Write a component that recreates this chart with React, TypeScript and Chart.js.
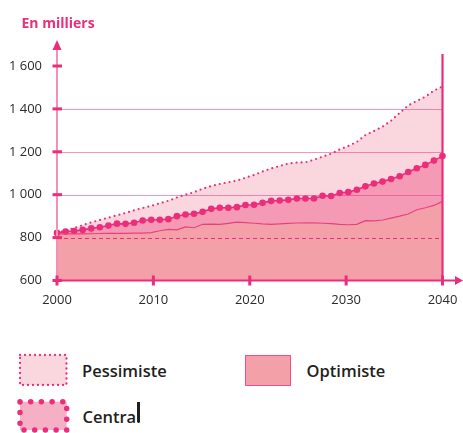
import React, { useEffect, useRef } from "react";
import { Chart, registerables } from "chart.js";

Chart.register(...registerables);

// ---- data (thousands of people), 46 samples between 2000 and 2040 ----
const optimiste = [
  817, 817, 817, 817, 818, 819, 820, 820, 820, 821,
  821, 823, 832, 838, 836, 850, 846, 862, 863, 862,
  866, 872, 870, 867, 864, 862, 864, 866, 868, 869,
  869, 867, 865, 862, 860, 862, 879, 878, 882, 891,
  900, 910, 930, 939, 950, 969,
];
const central = [
  822, 828, 831, 836, 843, 848, 856, 865, 864, 869,
  880, 883, 883, 886, 900, 908, 911, 920, 934, 939,
  939, 942, 952, 953, 962, 971, 973, 976, 982, 982,
  982, 995, 994, 1008, 1012, 1023, 1039, 1052, 1061, 1073,
  1086, 1106, 1123, 1139, 1159, 1180,
];
const pessimiste = [
  822, 833, 845, 858, 871, 882, 893, 904, 915, 927,
  938, 948, 960, 972, 987, 1000, 1012, 1028, 1040, 1050,
  1058, 1066, 1079, 1092, 1108, 1122, 1134, 1145, 1150, 1151,
  1163, 1177, 1191, 1211, 1227, 1246, 1278, 1297, 1317, 1345,
  1381, 1416, 1437, 1457, 1485, 1505,
];
const firstYear = 2000;
const lastYear = 2040;
const xTicks = [2000, 2010, 2020, 2030, 2040];
const yTicks = [600, 800, 1000, 1200, 1400, 1600];
const gridValues = [1000, 1200, 1400];
const referenceValue = 800;
const title = "En milliers";
const legendLabels = ["Pessimiste", "Optimiste", "Central"];

const PINK = "#ec2d7a";
const FONT = "'Open Sans', 'DejaVu Sans', sans-serif";

const xs = central.map((_, i) => firstYear + (i * (lastYear - firstYear)) / (central.length - 1));
const toPoints = (arr: number[]) => arr.map((v, i) => ({ x: xs[i], y: v }));

function fmt(v: number): string {
  if (v >= 1000) {
    return `${Math.floor(v / 1000)} ${String(v % 1000).padStart(3, "0")}`;
  }
  return String(v);
}

const decorPlugin = {
  id: "decor",
  beforeDatasetsDraw(chart: any) {
    const { ctx, scales } = chart;
    const x = scales.x;
    const y = scales.y;
    const left = x.getPixelForValue(firstYear);
    const right = x.getPixelForValue(lastYear);
    ctx.save();
    ctx.lineWidth = 1.2;
    ctx.strokeStyle = "rgba(236,45,122,0.5)";
    for (const v of gridValues) {
      const py = Math.round(y.getPixelForValue(v)) + 0.5;
      ctx.beginPath();
      ctx.moveTo(left, py);
      ctx.lineTo(right, py);
      ctx.stroke();
    }
    ctx.setLineDash([4, 3]);
    ctx.strokeStyle = PINK;
    ctx.lineWidth = 1;
    const pr = Math.round(y.getPixelForValue(referenceValue)) + 0.5;
    ctx.beginPath();
    ctx.moveTo(left, pr);
    ctx.lineTo(right, pr);
    ctx.stroke();
    ctx.restore();
  },
  afterDatasetsDraw(chart: any) {
    const { ctx, scales } = chart;
    const x = scales.x;
    const y = scales.y;
    const x0 = x.getPixelForValue(firstYear);
    const xEnd = x.getPixelForValue(lastYear);
    const y0 = y.getPixelForValue(yTicks[0]);
    ctx.save();
    // y axis line (light pink)
    ctx.strokeStyle = "#f58fb8";
    ctx.lineWidth = 2;
    ctx.beginPath();
    ctx.moveTo(x0, y0);
    ctx.lineTo(x0, 49);
    ctx.stroke();
    ctx.fillStyle = PINK;
    ctx.beginPath();
    ctx.moveTo(x0, 40);
    ctx.lineTo(x0 - 4.5, 50);
    ctx.lineTo(x0 + 4.5, 50);
    ctx.closePath();
    ctx.fill();
    // right vertical line at last year
    ctx.strokeStyle = PINK;
    ctx.lineWidth = 2.2;
    ctx.beginPath();
    ctx.moveTo(xEnd, 54);
    ctx.lineTo(xEnd, y0 + 2);
    ctx.stroke();
    // x axis line
    ctx.lineWidth = 2;
    ctx.beginPath();
    ctx.moveTo(x0, y0);
    ctx.lineTo(456, y0);
    ctx.stroke();
    ctx.beginPath();
    ctx.moveTo(455, y0 - 4.5);
    ctx.lineTo(463, y0);
    ctx.lineTo(455, y0 + 4.5);
    ctx.closePath();
    ctx.fill();
    // tick marks
    for (const v of yTicks) {
      const py = y.getPixelForValue(v);
      ctx.fillRect(x0 - 4.5, py - 1.5, 9.5, 3);
    }
    for (const v of xTicks) {
      const px = x.getPixelForValue(v);
      ctx.fillRect(px - 1.5, y0 - 5, 3, 10);
    }
    // labels
    ctx.fillStyle = "#2b2b2b";
    ctx.font = `13px ${FONT}`;
    ctx.textAlign = "right";
    ctx.textBaseline = "middle";
    for (const v of yTicks) {
      ctx.fillText(fmt(v), 42, y.getPixelForValue(v));
    }
    ctx.textAlign = "center";
    for (const v of xTicks) {
      ctx.fillText(String(v), x.getPixelForValue(v), 300);
    }
    // title
    ctx.fillStyle = PINK;
    ctx.font = `bold 14px ${FONT}`;
    ctx.textAlign = "left";
    ctx.textBaseline = "alphabetic";
    ctx.fillText(title, 21.5, 27.5);
    ctx.restore();
  },
};

function ChartCanvas() {
  const ref = useRef<HTMLCanvasElement | null>(null);
  useEffect(() => {
    if (!ref.current) return;
    const chart = new Chart(ref.current, {
      type: "line",
      data: {
        datasets: [
          {
            label: legendLabels[1],
            data: toPoints(optimiste),
            borderColor: "#e8407e",
            borderWidth: 1.2,
            pointRadius: 0,
            fill: "start",
            backgroundColor: "#f4a0a8",
            tension: 0,
            clip: 10,
          },
          {
            label: legendLabels[2],
            data: toPoints(central),
            borderColor: PINK,
            borderWidth: 1.6,
            pointRadius: 3.3,
            pointBackgroundColor: PINK,
            pointBorderWidth: 0,
            fill: "-1",
            backgroundColor: "#f59ab4",
            tension: 0,
            clip: 10,
          },
          {
            label: legendLabels[0],
            data: toPoints(pessimiste),
            borderColor: PINK,
            borderWidth: 2.2,
            borderDash: [0, 5],
            borderCapStyle: "round",
            pointRadius: 0,
            fill: "-1",
            backgroundColor: "#fad6df",
            tension: 0,
            clip: 10,
          },
        ],
      } as any,
      options: {
        animation: false,
        responsive: false,
        events: [],
        layout: { padding: { left: 57, right: 20.5, top: 66, bottom: 39.5 } },
        scales: {
          x: { type: "linear", min: firstYear, max: lastYear, display: false },
          y: { type: "linear", min: yTicks[0], max: yTicks[yTicks.length - 1], display: false },
        },
        plugins: {
          legend: { display: false },
          tooltip: { enabled: false },
          filler: { drawTime: "beforeDatasetsDraw" },
        } as any,
      },
      plugins: [decorPlugin],
    });
    return () => chart.destroy();
  }, []);
  return <canvas ref={ref} width={463} height={320} style={{ display: "block" }} />;
}

const textStyle: React.CSSProperties = {
  position: "absolute",
  fontFamily: FONT,
  fontWeight: 600,
  fontSize: 16.5,
  color: "#231f20",
  lineHeight: "20px",
  whiteSpace: "nowrap",
};

export default function App() {
  return (
    <div style={{ position: "absolute", left: 0, top: 0, width: 463, height: 433, overflow: "hidden", background: "#fff" }}>
      <ChartCanvas />
      <svg style={{ position: "absolute", left: 17, top: 352 }} width={54} height={36}>
        <rect x={3} y={3} width={46.5} height={30} fill="#fad6df" stroke={PINK} strokeWidth={2.3} strokeDasharray="0 5" strokeLinecap="round" />
      </svg>
      <div style={{ ...textStyle, left: 82, top: 361 }}>{legendLabels[0]}</div>
      <div style={{ position: "absolute", left: 245, top: 355, width: 46, height: 31, boxSizing: "border-box", background: "#f4a0a8", border: "1.5px solid #f0508a" }} />
      <div style={{ ...textStyle, left: 306.5, top: 361 }}>{legendLabels[1]}</div>
      <svg style={{ position: "absolute", left: 14, top: 396 }} width={60} height={40}>
        <rect x={6} y={5.7} width={46.7} height={28.3} fill="#f6b0c6" stroke={PINK} strokeWidth={5.5} strokeDasharray="0 10.7" strokeLinecap="round" />
      </svg>
      <div style={{ ...textStyle, left: 82.5, top: 407 }}>{legendLabels[2]}</div>
      <div style={{ position: "absolute", left: 137, top: 402, width: 2.5, height: 20, background: "#231f20" }} />
    </div>
  );
}
